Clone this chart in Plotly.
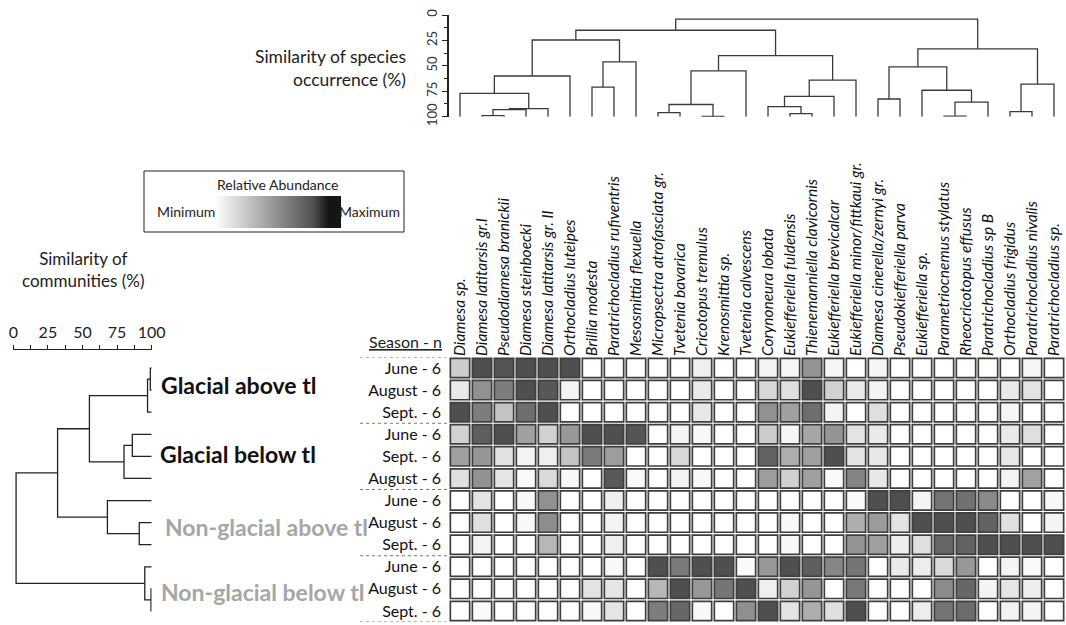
import plotly.graph_objects as go

W, H = 1066, 625
FONT = "Lato"

species = [
    "Diamesa sp.", "Diamesa latitarsis gr.I", "Pseudodiamesa branickii", "Diamesa steinboecki",
    "Diamesa latitarsis gr. II", "Orthocladius luteipes", "Brillia modesta",
    "Paratrichocladius rufiventris", "Mesosmittia flexuella", "Micropsectra atrofasciata gr.",
    "Tvetenia bavarica", "Cricotopus tremulus", "Krenosmittia sp.", "Tvetenia calvescens",
    "Corynoneura lobata", "Eukiefferiella fuldensis", "Thienemanniella clavicornis",
    "Eukiefferiella brevicalcar", "Eukiefferiella minor/fittkaui gr.", "Diamesa cinerella/zernyi gr.",
    "Pseudokiefferiella parva", "Eukiefferiella sp.", "Parametriocnemus stylatus",
    "Rheocricotopus effusus", "Paratrichocladius sp B", "Orthocladius frigidus",
    "Paratrichocladius nivalis", "Paratrichocladius sp.",
]

seasons = ["June - 6", "August - 6", "Sept. - 6",
           "June - 6", "Sept. - 6", "August - 6",
           "June - 6", "August - 6", "Sept. - 6",
           "June - 6", "August - 6", "Sept. - 6"]

groups = ["Glacial above tl", "Glacial below tl", "Non-glacial above tl", "Non-glacial below tl"]

# relative abundance (0 = minimum, 100 = maximum), one list per sample row
ga_june = [29, 100, 97, 100, 100, 100, 0, 0, 0, 0, 0, 9, 0, 0, 7, 5, 61, 5, 0, 5, 0, 0, 0, 0, 0, 0, 5, 0]
ga_aug = [12, 63, 74, 100, 96, 7, 0, 0, 0, 0, 0, 12, 0, 0, 23, 18, 100, 26, 12, 6, 0, 0, 0, 0, 0, 12, 16, 0]
ga_sept = [100, 74, 34, 83, 100, 0, 0, 0, 0, 0, 0, 13, 0, 0, 63, 54, 83, 7, 0, 18, 0, 0, 0, 0, 0, 5, 0, 0]
gb_june = [26, 92, 100, 54, 26, 59, 100, 100, 97, 0, 7, 4, 0, 0, 29, 5, 51, 61, 16, 12, 0, 0, 0, 0, 0, 12, 18, 0]
gb_sept = [54, 60, 17, 6, 9, 34, 76, 56, 0, 0, 23, 0, 0, 0, 89, 46, 54, 100, 16, 13, 0, 0, 0, 0, 0, 13, 0, 0]
gb_aug = [18, 62, 15, 3, 21, 4, 0, 95, 3, 0, 7, 4, 0, 0, 56, 27, 54, 3, 70, 13, 0, 0, 0, 0, 0, 7, 53, 0]
nga_june = [0, 16, 0, 4, 63, 0, 0, 9, 0, 0, 0, 0, 0, 0, 0, 0, 0, 0, 3, 100, 100, 6, 79, 81, 67, 0, 0, 4]
nga_aug = [0, 18, 0, 4, 65, 0, 0, 7, 0, 0, 0, 0, 0, 0, 0, 4, 0, 0, 46, 57, 16, 100, 100, 100, 89, 18, 0, 6]
nga_sept = [0, 7, 0, 0, 41, 0, 0, 9, 0, 0, 0, 0, 0, 0, 0, 4, 0, 0, 61, 55, 10, 18, 87, 89, 100, 100, 100, 100]
ngb_june = [0, 0, 0, 0, 0, 0, 0, 4, 0, 100, 76, 100, 100, 3, 59, 100, 92, 69, 79, 0, 12, 10, 21, 59, 0, 6, 3, 0]
ngb_aug = [0, 0, 0, 0, 0, 0, 16, 15, 0, 41, 100, 59, 79, 100, 9, 26, 60, 0, 77, 0, 0, 0, 66, 87, 6, 15, 10, 0]
ngb_sept = [0, 3, 0, 0, 0, 0, 4, 15, 0, 74, 87, 4, 0, 64, 100, 16, 46, 18, 100, 0, 0, 10, 79, 84, 0, 7, 6, 0]

abundance = [ga_june, ga_aug, ga_sept, gb_june, gb_sept, gb_aug,
             nga_june, nga_aug, nga_sept, ngb_june, ngb_aug, ngb_sept]

# species dendrogram: (child a, child b, similarity %), linkage style (new node = n + k)
species_merges = [
    (1, 2, 99), (28, 3, 93), (29, 4, 92), (0, 30, 77), (31, 5, 60),
    (6, 7, 71), (33, 8, 46), (32, 34, 24.6),
    (9, 10, 96), (11, 12, 99.6), (36, 37, 88), (38, 13, 55),
    (15, 16, 97), (14, 40, 90), (41, 17, 80), (42, 18, 64), (39, 43, 40),
    (35, 44, 15),
    (19, 20, 82.6), (22, 23, 99.4), (47, 24, 85.6), (21, 48, 74), (46, 49, 51),
    (25, 26, 95), (51, 27, 68), (50, 52, 33.4),
    (45, 53, 4),
]

# community dendrogram over the 12 sample rows
community_merges = [
    (0, 1, 99), (12, 2, 97), (3, 4, 86), (14, 5, 80), (13, 15, 55),
    (7, 8, 91), (6, 17, 68), (16, 18, 32),
    (10, 11, 99.5), (9, 20, 95), (19, 21, 2),
]


def dendro_paths(n, merges, leaf_level=100.0):
    pos = {i: (float(i), leaf_level) for i in range(n)}
    p, s = [], []
    for k, (a, b, sim) in enumerate(merges):
        pa, ha = pos[a]
        pb, hb = pos[b]
        p += [pa, pa, pb, pb, None]
        s += [ha, sim, sim, hb, None]
        pos[n + k] = ((pa + pb) / 2.0, sim)
    return p, s


def px(x):
    return x / W


def py(y):
    return 1 - y / H


n_sp = len(species)
n_rows = len(seasons)

cx, cy, cz = [], [], []
for r, row in enumerate(abundance):
    for c, v in enumerate(row):
        cx.append(c)
        cy.append(r)
        cz.append(v)

colorscale = [[0, "#ffffff"], [0.78, "#505050"], [0.9, "#151515"], [1, "#151515"]]

fig = go.Figure()

fig.add_trace(go.Scatter(
    x=cx, y=cy, mode="markers", xaxis="x", yaxis="y", hoverinfo="skip",
    marker=dict(symbol="square", size=19.3, color=cz, colorscale=colorscale,
                cmin=0, cmax=128, line=dict(color="#3e3e3e", width=1.7),
                showscale=True,
                colorbar=dict(orientation="h", x=px(215), xanchor="left",
                              y=py(196), yanchor="top", len=126, lenmode="pixels",
                              thickness=32, thicknessmode="pixels", outlinewidth=0,
                              showticklabels=False, ticks="", xpad=0, ypad=0)),
    showlegend=False,
))

sp_p, sp_s = dendro_paths(n_sp, species_merges)
fig.add_trace(go.Scatter(x=sp_p, y=sp_s, mode="lines", xaxis="x2", yaxis="y2",
                         line=dict(color="#3a3a3a", width=1.3), cliponaxis=False,
                         hoverinfo="skip", showlegend=False))

cm_p, cm_s = dendro_paths(n_rows, community_merges)
fig.add_trace(go.Scatter(x=cm_s, y=cm_p, mode="lines", xaxis="x3", yaxis="y3",
                         line=dict(color="#222222", width=1.3), cliponaxis=False,
                         hoverinfo="skip", showlegend=False))

x0, x1 = 449, W
col_w = 22.0
xr = [-0.5, -0.5 + (x1 - x0) / col_w]
ydom = [py(622), py(357)]

annotations = [
    dict(x=px(408), y=py(68), xref="paper", yref="paper", xanchor="right", yanchor="middle",
         align="right", text="Similarity of species<br>occurrence (%)", showarrow=False,
         font=dict(size=17.5, color="#222")),
    dict(x=px(83), y=py(270), xref="paper", yref="paper", xanchor="center", yanchor="middle",
         align="center", text="Similarity of<br>communities (%)", showarrow=False,
         font=dict(size=17, color="#222")),
    dict(x=px(278), y=py(184), xref="paper", yref="paper", xanchor="center", yanchor="middle",
         text="Relative Abundance", showarrow=False, font=dict(size=14, color="#222")),
    dict(x=px(155), y=py(212), xref="paper", yref="paper", xanchor="left", yanchor="middle",
         text="Minimum", showarrow=False, font=dict(size=14, color="#222")),
    dict(x=px(402), y=py(212), xref="paper", yref="paper", xanchor="right", yanchor="middle",
         text="Maximum", showarrow=False, font=dict(size=14, color="#222")),
    dict(x=px(405), y=py(341), xref="paper", yref="paper", xanchor="center", yanchor="middle",
         text="<u>Season - n</u>", showarrow=False, font=dict(size=16, color="#222")),
]

group_pos = [(159, 385, "#111111"), (158, 454, "#111111"), (163, 527, "#a6a6a6"), (159, 592, "#a6a6a6")]
for name, (gx, gy, gc) in zip(groups, group_pos):
    annotations.append(dict(x=px(gx), y=py(gy), xref="paper", yref="paper", xanchor="left",
                            yanchor="middle", text="<b>" + name + "</b>", showarrow=False,
                            font=dict(size=23, color=gc)))

shapes = [dict(type="rect", xref="paper", yref="paper", x0=px(144), x1=px(404),
               y0=py(232), y1=py(171), line=dict(color="#222", width=1))]
for b in [-0.5, 2.5, 5.5, 8.5, 11.5]:
    shapes.append(dict(type="line", xref="paper", yref="y", x0=px(360), x1=px(447),
                       y0=b, y1=b, line=dict(color="#777", width=1, dash="dot")))

fig.update_layout(
    width=W, height=H, autosize=False,
    margin=dict(l=0, r=0, t=0, b=0, pad=0, autoexpand=False),
    paper_bgcolor="white", plot_bgcolor="rgba(0,0,0,0)",
    font=dict(family=FONT, color="#222"),
    annotations=annotations, shapes=shapes,
    xaxis=dict(domain=[px(x0), 1], range=xr, side="top", anchor="y",
               tickvals=list(range(n_sp)), ticktext=species, tickangle=-90,
               tickfont=dict(size=15.5, style="italic", color="#111"),
               ticklabeloverflow="allow",
               showgrid=False, zeroline=False, showline=False, ticks=""),
    yaxis=dict(domain=ydom, range=[n_rows - 0.5, -0.5], anchor="x",
               tickvals=list(range(n_rows)), ticktext=seasons,
               tickfont=dict(size=16, color="#111"), ticks="",
               ticklabelstandoff=7,
               showgrid=False, zeroline=False, showline=False),
    xaxis2=dict(domain=[px(x0), 1], range=xr, anchor="y2", visible=False),
    yaxis2=dict(domain=[py(116.7), py(15)], range=[100, 0], anchor="x2",
                tickvals=[0, 25, 50, 75, 100], tickangle=-90,
                tickfont=dict(size=13, color="#333"),
                ticks="outside", ticklen=5, tickcolor="#222", showline=True,
                linecolor="#222", linewidth=1.5, showgrid=False, zeroline=False,
                minor=dict(dtick=12.5, tick0=0, ticks="outside", ticklen=3, tickcolor="#222")),
    xaxis3=dict(domain=[px(13.3), px(151.7)], range=[0, 100], anchor="free",
                position=py(349), side="top", tickvals=[0, 25, 50, 75, 100],
                tickfont=dict(size=16, color="#222"), ticks="outside", ticklen=4,
                tickcolor="#222", showline=True, linecolor="#222", linewidth=1.3,
                showgrid=False, zeroline=False,
                minor=dict(dtick=12.5, tick0=0, ticks="outside", ticklen=4, tickcolor="#222")),
    yaxis3=dict(domain=ydom, range=[n_rows - 0.5, -0.5], anchor="x3", visible=False),
)

fig.write_html("out.html")
